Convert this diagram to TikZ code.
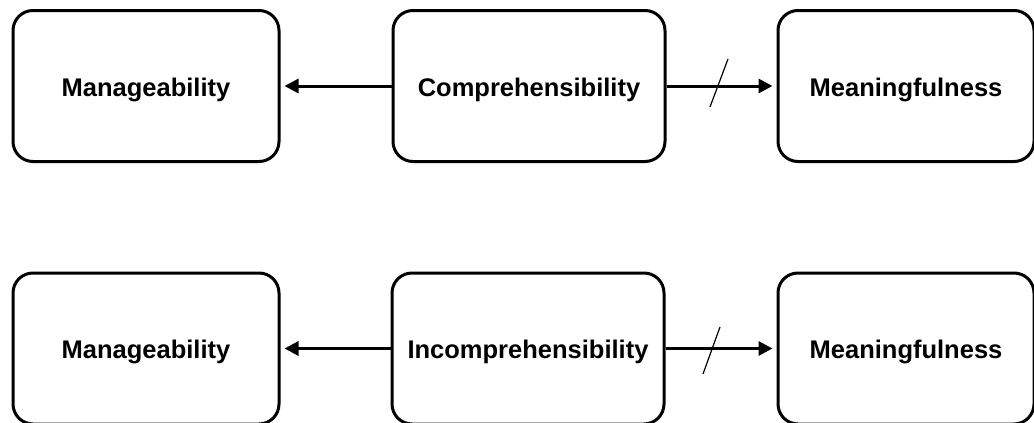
\documentclass[tikz,border=0pt]{standalone}
\usepackage{fontspec}
\setmainfont{Liberation Sans}
\usetikzlibrary{arrows.meta,calc}
\begin{document}
\begin{tikzpicture}[x=1pt,y=-1pt,
  concept/.style={draw, line width=3pt, rounded corners=20pt, inner sep=0pt,
    minimum height=151pt, text height=20pt, text depth=0pt,
    font=\bfseries\fontsize{25.5}{30}\selectfont},
  link/.style={line width=3pt, shorten >=4pt, -{Triangle[length=14pt,width=14pt]}},
  strike/.style={line width=1.2pt}]
\useasboundingbox (0,0) rectangle (1034,423);
% top row
\node[concept, minimum width=266pt] (man1) at (146,86) {Manageability};
\node[concept, minimum width=272pt] (com1) at (529,86) {Comprehensibility};
\node[concept, minimum width=256pt] (mea1) at (906,86) {Meaningfulness};
\draw[link] (com1.west) -- (man1.east);
\draw[link] (com1.east) -- (mea1.west);
\coordinate (s1a) at (728,59);
\coordinate (s1b) at (710,107);
\draw[strike] (s1a) -- (s1b);
% bottom row
\node[concept, minimum width=266pt] (man2) at (146,348.5) {Manageability};
\node[concept, minimum width=272pt] (inc2) at (528,348.5) {Incomprehensibility};
\node[concept, minimum width=256pt] (mea2) at (906,348.5) {Meaningfulness};
\draw[link] (inc2.west) -- (man2.east);
\draw[link] (inc2.east) -- (mea2.west);
\coordinate (s2a) at (720,327);
\coordinate (s2b) at (703,374);
\draw[strike] (s2a) -- (s2b);
\end{tikzpicture}
\end{document}
